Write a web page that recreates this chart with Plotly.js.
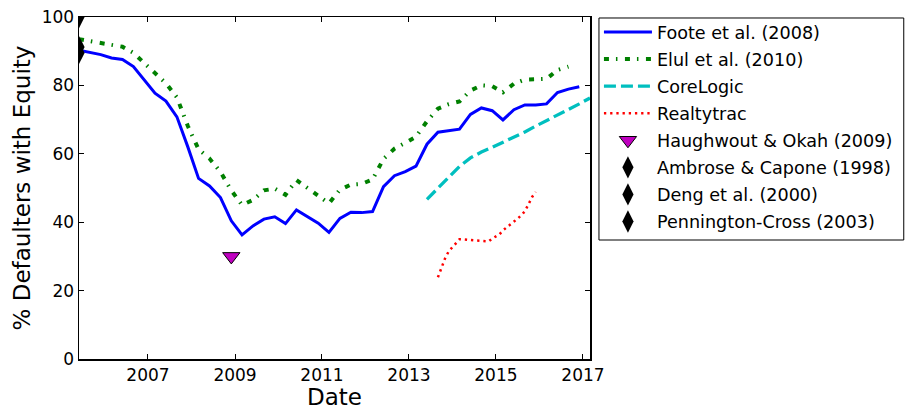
<!DOCTYPE html>
<html>
<head>
<meta charset="utf-8">
<script src="https://cdn.plot.ly/plotly-3.0.1.min.js"></script>
<style>
  html, body { margin: 0; padding: 0; background: #fff; }
  #chart { width: 910px; height: 410px; }
</style>
</head>
<body>
<div id="chart"></div>
<script>
// Quarterly dates
const quarters = [
  "2005-06-01","2005-09-01","2005-12-01","2006-03-01","2006-06-01","2006-09-01","2006-12-01",
  "2007-03-01","2007-06-01","2007-09-01","2007-12-01","2008-03-01","2008-06-01","2008-09-01","2008-12-01",
  "2009-03-01","2009-06-01","2009-09-01","2009-12-01","2010-03-01","2010-06-01","2010-09-01","2010-12-01",
  "2011-03-01","2011-06-01","2011-09-01","2011-12-01","2012-03-01","2012-06-01","2012-09-01","2012-12-01",
  "2013-03-01","2013-06-01","2013-09-01","2013-12-01","2014-03-01","2014-06-01","2014-09-01","2014-12-01",
  "2015-03-01","2015-06-01","2015-09-01","2015-12-01","2016-03-01","2016-06-01","2016-09-01","2016-12-01",
  "2017-03-01"
];

// Foote et al. (2008)
const footeDates = quarters.slice(0, 47);
const footeValues = [
  90.3, 89.7, 89.0, 88.0, 87.6, 85.5, 81.6, 77.7, 75.4, 70.8, 62.1, 52.8, 50.6, 47.2, 40.4,
  36.3, 38.9, 40.9, 41.6, 39.6, 43.6, 41.6, 39.7, 37.0, 41.1, 42.9, 42.8, 43.1, 50.4, 53.6, 54.8,
  56.4, 62.8, 66.3, 66.8, 67.2, 71.5, 73.4, 72.6, 69.9, 72.9, 74.3, 74.3, 74.6, 77.9, 78.9, 79.6
];

// Elul et al. (2010)
const elulDates = quarters.slice(0, 46);
const elulValues = [
  93.5, 92.9, 92.4, 91.9, 91.3, 89.5, 86.6, 83.5, 80.6, 76.5, 68.2, 61.3, 58.6, 54.7, 49.3,
  45.0, 46.5, 49.3, 49.8, 48.0, 52.3, 50.0, 47.8, 45.5, 49.5, 51.0, 51.2, 52.5, 58.5, 61.5, 63.2,
  65.0, 69.5, 73.2, 74.5, 75.3, 78.5, 80.0, 79.8, 78.0, 80.5, 81.7, 81.8, 81.9, 84.5, 85.5
];

// CoreLogic
const coreDates = quarters.slice(32, 48);
const coreValues = [
  46.7, 50.0, 53.3, 56.3, 58.8, 60.5, 61.9, 63.3, 64.9, 66.4, 68.1, 69.7, 71.2, 72.8, 74.6, 76.3
];

// Realtytrac (monthly)
const realtyDates = [
  "2013-09-01","2013-10-01","2013-11-01","2013-12-01","2014-01-01","2014-02-01","2014-03-01",
  "2014-04-01","2014-05-01","2014-06-01","2014-07-01","2014-08-01","2014-09-01","2014-10-01",
  "2014-11-01","2014-12-01","2015-01-01","2015-02-01","2015-03-01","2015-04-01","2015-05-01",
  "2015-06-01","2015-07-01","2015-08-01","2015-09-01","2015-10-01","2015-11-01","2015-12-01"
];
const realtyValues = [
  23.9, 26.5, 29.5, 31.5, 32.8, 34.0, 35.0, 35.0, 34.8, 34.8, 34.7, 34.6, 34.5, 34.4,
  34.4, 35.2, 35.8, 36.5, 37.6, 38.4, 39.2, 40.0, 41.0, 42.0, 43.2, 45.2, 47.4, 48.8
];

// Point estimates
const haughwoutDate = ["2008-12-01"];
const haughwoutValue = [30.0];
const ambroseDate = ["2005-06-01"];
const ambroseValue = [100.0];
const dengDate = ["2005-06-01"];
const dengValue = [91.2];
const penningtonDate = ["2005-06-01"];
const penningtonValue = [89.5];

// Axis ticks
const tickYears = ["2007", "2009", "2011", "2013", "2015", "2017"];
const yTicks = [0, 20, 40, 60, 80, 100];

const font = "DejaVu Sans";

const traces = [
  { x: footeDates, y: footeValues, name: "Foote et al. (2008)", mode: "lines", legendgroup: "g1",
    line: { color: "#0000ff", width: 3 } },
  { x: elulDates, y: elulValues, name: "Elul et al. (2010)", mode: "lines", legendgroup: "g2",
    line: { color: "#008000", width: 4, dash: "5px,7px,1.5px,7.5px" } },
  { x: coreDates, y: coreValues, name: "CoreLogic", mode: "lines", legendgroup: "g3",
    line: { color: "#00bfbf", width: 3.3, dash: "12px,5px" } },
  { x: realtyDates, y: realtyValues, name: "Realtytrac", mode: "lines", legendgroup: "g4",
    line: { color: "#ff0000", width: 2.5, dash: "2.3px,3.9px" } },
  { x: haughwoutDate, y: haughwoutValue, name: "Haughwout & Okah (2009)", mode: "markers", legendgroup: "g5",
    marker: { symbol: "triangle-down", size: 15, color: "#bf00bf", line: { color: "#000", width: 1 } } },
  { x: ambroseDate, y: ambroseValue, name: "Ambrose & Capone (1998)", mode: "markers", legendgroup: "g6",
    marker: { symbol: "diamond-tall", size: 16, color: "#000" } },
  { x: dengDate, y: dengValue, name: "Deng et al. (2000)", mode: "markers", legendgroup: "g7",
    marker: { symbol: "diamond-tall", size: 16, color: "#000" } },
  { x: penningtonDate, y: penningtonValue, name: "Pennington-Cross (2003)", mode: "markers", legendgroup: "g8",
    marker: { symbol: "diamond-tall", size: 16, color: "#000" } }
];

const layout = {
  width: 910, height: 410,
  margin: { l: 79, r: 318, t: 17, b: 51 },
  paper_bgcolor: "#fff", plot_bgcolor: "#fff",
  font: { family: font, color: "#000", size: 17 },
  showlegend: true,
  legend: {
    x: 1.0175, xanchor: "left", y: 1.0088, yanchor: "top",
    borderwidth: 0, bgcolor: "rgba(0,0,0,0)",
    font: { family: font, size: 17.6, color: "#000" },
    itemwidth: 48,
    tracegroupgap: 1.2,
    maxheight: 1000
  },
  shapes: [
    { type: "rect", xref: "paper", yref: "paper", x0: 1.01754, x1: 1.6140, y0: 0.34795, y1: 0.99708,
      line: { color: "#000", width: 1 }, fillcolor: "rgba(0,0,0,0)", layer: "above" }
  ],
  xaxis: {
    type: "date",
    range: ["2005-06-01", "2017-03-01"],
    tickvals: tickYears.map(y => y + "-01-01"),
    ticktext: tickYears,
    ticks: "inside", ticklen: 5, tickwidth: 1, tickcolor: "#000",
    showline: true, linecolor: "#000", linewidth: 1.5, mirror: "ticks",
    showgrid: false, zeroline: false,
    tickfont: { family: font, size: 17 },
    title: { text: "Date", font: { family: font, size: 23 }, standoff: 6 }
  },
  yaxis: {
    range: [0, 100],
    tickvals: yTicks,
    ticks: "inside", ticklen: 5, tickwidth: 1, tickcolor: "#000",
    showline: true, linecolor: "#000", linewidth: 1.5, mirror: "ticks",
    showgrid: false, zeroline: false,
    tickfont: { family: font, size: 17 },
    title: { text: "% Defaulters with Equity", font: { family: font, size: 23 }, standoff: 4 }
  }
};

Plotly.newPlot("chart", traces, layout, { displayModeBar: false, staticPlot: true });
</script>
</body>
</html>
